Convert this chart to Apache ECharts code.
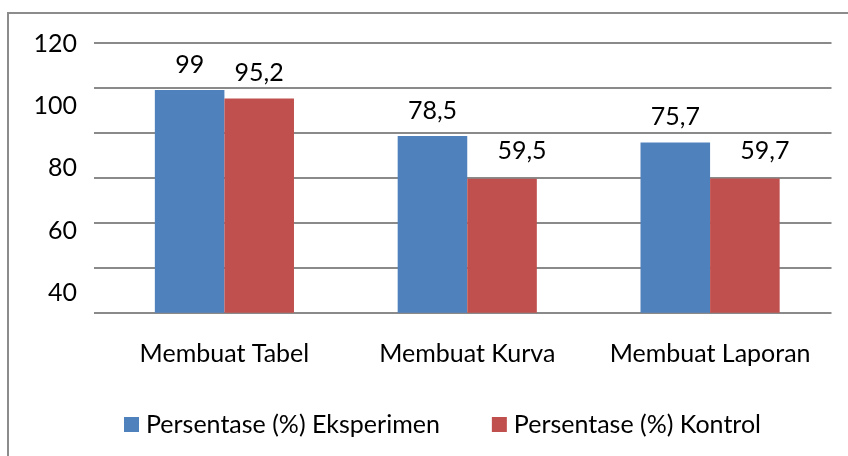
<!DOCTYPE html>
<html>
<head>
<meta charset="utf-8">
<script src="https://cdn.jsdelivr.net/npm/echarts@6/dist/echarts.min.js"></script>
<style>
  html, body { margin: 0; padding: 0; background: #fff; overflow: hidden; }
  #frame { position: absolute; left: 7px; top: 12px; width: 900px; height: 500px;
           border-top: 2px solid #8c8c8c; border-left: 2px solid #8c8c8c; box-sizing: border-box; }
  #chart { position: absolute; left: 0; top: 0; width: 848px; height: 456px; }
</style>
</head>
<body>
<div id="frame"></div>
<div id="chart"></div>
<script>
const categories = ['Membuat Tabel', 'Membuat Kurva', 'Membuat Laporan'];
const seriesNames = ['Persentase (%) Eksperimen', 'Persentase (%) Kontrol'];
const eksperimen = [99, 78.5, 75.7];
const kontrol = [95.2, 59.5, 59.7];
const yTickLabels = [40, 60, 80, 100, 120];

const FONT = 'Lato, "Liberation Sans", sans-serif';
const FS = 25;
const GRID_COLOR = '#8a8a8a';
const fmt = p => String(p.value).replace('.', ',');

const chart = echarts.init(document.getElementById('chart'), null, { renderer: 'canvas' });
chart.setOption({
  animation: false,
  textStyle: { fontFamily: FONT },
  grid: { left: 103, right: 16.5, top: 42.7, bottom: 143.3, containLabel: false },
  legend: {
    data: seriesNames,
    left: 124, top: 412, padding: 0,
    itemWidth: 15, itemHeight: 15, itemGap: 52,
    icon: 'rect',
    selectedMode: false,
    textStyle: { fontFamily: FONT, fontSize: FS, color: '#000', padding: [0, 0, 0, 2] }
  },
  xAxis: {
    type: 'category',
    data: categories,
    axisLine: { show: false },
    axisTick: { show: false },
    axisLabel: { interval: 0, fontFamily: FONT, fontSize: FS, color: '#000', margin: 29 }
  },
  yAxis: [
    {
      type: 'value', min: 0, max: 120, interval: 20,
      axisLine: { show: false },
      axisTick: { show: true, length: 9, lineStyle: { color: GRID_COLOR, width: 2 } },
      axisLabel: { show: false },
      splitLine: { show: true, lineStyle: { color: GRID_COLOR, width: 2 } }
    },
    {
      type: 'value', position: 'left', min: 33.5, max: 120.5,
      axisLine: { show: false },
      axisTick: { show: false },
      splitLine: { show: false },
      axisLabel: { customValues: yTickLabels, fontFamily: FONT, fontSize: FS, color: '#000', margin: 26 }
    }
  ],
  series: [
    {
      name: seriesNames[0], type: 'bar', yAxisIndex: 0,
      data: eksperimen,
      barGap: '0%', barCategoryGap: '42.7%',
      itemStyle: { color: '#4f81bd' },
      label: { show: true, position: 'top', distance: 13, formatter: fmt,
               fontFamily: FONT, fontSize: FS, color: '#000' }
    },
    {
      name: seriesNames[1], type: 'bar', yAxisIndex: 0,
      data: kontrol.map((v, i) => i === 0 ? v : { value: v, label: { offset: [20, -2] } }),
      barGap: '0%', barCategoryGap: '42.7%',
      itemStyle: { color: '#c0504d' },
      label: { show: true, position: 'top', distance: 13, formatter: fmt,
               fontFamily: FONT, fontSize: FS, color: '#000' }
    }
  ]
});
</script>
</body>
</html>
